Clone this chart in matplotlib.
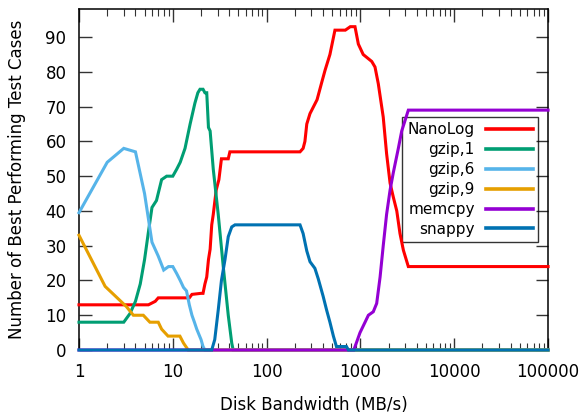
import matplotlib
matplotlib.use("Agg")
import matplotlib.pyplot as plt
from matplotlib.ticker import LogLocator, FixedLocator, NullFormatter

# data
nanolog_x = [1, 5.5, 6.5, 7, 15, 16, 20, 21, 22, 23, 24, 25, 26, 27, 29, 31, 33, 39,
             40.6, 227, 245, 256, 268, 290, 345, 387, 420, 473, 535, 690, 780, 875,
             950, 1070, 1320, 1430, 1550, 1750, 1900, 2070, 2240, 2440, 2640, 2870,
             3240, 100000]
nanolog_y = [13, 13, 14, 15, 15, 16, 16.3, 16.3, 19, 21, 26, 29, 36, 39, 46, 49, 55, 55,
             57, 57, 58, 60, 65, 68, 72, 77, 80.5, 85, 92, 92, 93, 93,
             88, 85, 83, 81.4, 76.6, 67, 56.5, 48, 44, 40, 33.5, 28.7,
             24, 24]

gzip1_x = [1, 3, 3.5, 4, 4.5, 5, 5.5, 6, 6.7, 7.6, 8.6, 10, 11, 12, 13.5, 15.3, 17.2,
           18.5, 19.5, 21, 22, 23, 24, 25, 27, 30.5, 34.5, 39, 42.5, 44, 100000]
gzip1_y = [8, 8, 10.5, 14, 19, 26, 34, 41, 43, 49, 50, 50, 52, 54, 58, 65, 71,
           74, 75, 75, 74, 74, 64, 63, 52, 39, 24, 10, 2, 0, 0]

gzip6_x = [1, 2, 3, 4, 5, 6, 7, 8, 9, 10, 11, 12, 13, 14, 15, 16, 17, 18, 20, 21, 22,
           100000]
gzip6_y = [39.5, 54, 58, 57, 45, 31, 27, 23, 24, 24, 22, 20, 18, 17, 13, 10, 8, 6, 3, 1, 0,
           0]

gzip9_x = [1, 1.9, 3.2, 3.8, 4.85, 5.7, 7, 7.6, 8.9, 11.9, 13, 14.6, 100000]
gzip9_y = [33, 18.3, 12.5, 10, 10, 8, 8, 6, 4, 4, 2, 0, 0]

memcpy_x = [1, 850, 990, 1120, 1215, 1370, 1490, 1620, 1750, 1900, 2070, 2240, 2535,
            2755, 3240, 100000]
memcpy_y = [0, 0, 5, 8, 10, 11, 13.4, 21, 30, 39, 46, 51, 58, 63, 69, 69]

snappy_x = [1, 26, 28, 30.5, 33, 36, 39, 42.5, 46, 227, 245, 268, 290, 327, 355, 400,
            436, 473, 515, 555, 710, 745, 100000]
snappy_y = [0, 0, 3, 11.5, 20, 26, 32.6, 35.4, 36, 36, 33.5, 28.5, 25.4, 23.5, 20.5, 15.5,
            11.5, 8, 4, 1, 1, 0, 0]

series = [
    ("NanoLog", nanolog_x, nanolog_y, "#ff0000"),
    ("gzip,1", gzip1_x, gzip1_y, "#009e73"),
    ("gzip,6", gzip6_x, gzip6_y, "#56b4e9"),
    ("gzip,9", gzip9_x, gzip9_y, "#e69f00"),
    ("memcpy", memcpy_x, memcpy_y, "#9400d3"),
    ("snappy", snappy_x, snappy_y, "#0072b2"),
]

plt.rcParams['font.family'] = 'DejaVu Sans'

fig = plt.figure(figsize=(5.82, 4.15), dpi=100)
ax = fig.add_axes([0.1357, 0.1566, 0.806, 0.821])

for name, xs, ys, col in series:
    ax.plot(xs, ys, color=col, lw=2.2, label=name, clip_on=False,
            solid_joinstyle='miter', zorder=3)

ax.set_xscale('log')
ax.set_xlim(1, 100000)
ax.set_ylim(0, 98)
ax.yaxis.set_major_locator(FixedLocator(range(0, 100, 10)))
ax.xaxis.set_minor_locator(LogLocator(base=10, subs=range(2, 10), numticks=20))
ax.xaxis.set_minor_formatter(NullFormatter())
ax.set_xticks([1, 10, 100, 1000, 10000, 100000])
ax.set_xticklabels(['1', '10', '100', '1000', '10000', '100000'])

ax.tick_params(which='both', direction='in', top=True, right=True,
               labelsize=12, color='#333333')
ax.tick_params(which='major', length=9, width=1, pad=9)
ax.tick_params(which='minor', length=5, width=0.8)
for s in ax.spines.values():
    s.set_linewidth(1.1)
    s.set_color('black')

ax.set_xlabel('Disk Bandwidth (MB/s)', fontsize=12, labelpad=11)
ax.set_ylabel('Number of Best Performing Test Cases', fontsize=12, labelpad=14)

# gnuplot-style key: no fill, curves show through the box
leg = ax.legend(loc='upper right', bbox_to_anchor=(0.979, 0.684), markerfirst=False,
                fontsize=11, handlelength=3.1, handletextpad=0.7, labelspacing=0.32,
                borderpad=0.35, fancybox=False, borderaxespad=0)
leg.get_frame().set_facecolor('none')
leg.get_frame().set_edgecolor('black')
leg.get_frame().set_linewidth(1.0)
leg.set_zorder(2)
for t in leg.get_texts():
    t.set_ha('right')
for h in leg.get_lines():
    h.set_linewidth(2.6)

fig.savefig('out.png', dpi=100)
